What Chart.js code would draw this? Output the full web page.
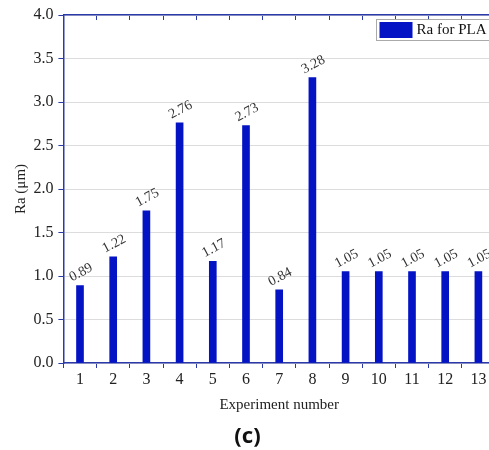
<!DOCTYPE html>
<html>
<head>
<meta charset="utf-8">
<script src="https://cdn.jsdelivr.net/npm/chart.js@4/dist/chart.umd.min.js"></script>
<style>
  html, body { margin: 0; padding: 0; background: #fff; overflow: hidden; }
</style>
</head>
<body>
<canvas id="myChart" width="495" height="450"></canvas>
<script>
const labels = ["1", "2", "3", "4", "5", "6", "7", "8", "9", "10", "11", "12", "13"];
const raValues = [0.89, 1.22, 1.75, 2.76, 1.17, 2.73, 0.84, 3.28, 1.05, 1.05, 1.05, 1.05, 1.05];
const yTicks = [0, 0.5, 1, 1.5, 2, 2.5, 3, 3.5, 4];

const serif = "'Liberation Serif', 'Times New Roman', serif";
const barBlue = "#0414c4";
const axisBlue = "#2b3aa8";

// value labels, tilted, above each bar
const barLabels = {
  id: "barLabels",
  afterDatasetsDraw(chart) {
    const ctx = chart.ctx;
    const meta = chart.getDatasetMeta(0);
    ctx.save();
    ctx.font = "14px " + serif;
    ctx.fillStyle = "#333";
    ctx.textAlign = "center";
    ctx.textBaseline = "middle";
    meta.data.forEach((bar, i) => {
      ctx.save();
      ctx.translate(bar.x + 1, bar.y - 13);
      ctx.rotate(-28 * Math.PI / 180);
      ctx.fillText(raValues[i].toFixed(2), 0, 0);
      ctx.restore();
    });
    ctx.restore();
  }
};

// boxed legend inside the plot, top right
const boxLegend = {
  id: "boxLegend",
  afterDraw(chart) {
    const ctx = chart.ctx;
    const area = chart.chartArea;
    const ds = chart.data.datasets[0];
    const left = area.right - 118.5;
    const top = area.top + 4.5;
    ctx.save();
    ctx.fillStyle = "#fff";
    ctx.fillRect(left, top, 117, 21);
    ctx.strokeStyle = "#aaa";
    ctx.lineWidth = 1;
    ctx.strokeRect(left, top, 117, 21);
    ctx.fillStyle = ds.backgroundColor;
    ctx.fillRect(left + 3, top + 2.5, 33, 16);
    ctx.fillStyle = "#111";
    ctx.font = "15px " + serif;
    ctx.textAlign = "left";
    ctx.textBaseline = "middle";
    ctx.fillText(ds.label, left + 40, top + 11);
    ctx.restore();
  }
};

const data = {
  labels,
  datasets: [
    {
      label: "Ra for PLA",
      data: raValues,
      backgroundColor: barBlue,
      borderWidth: 0,
      barThickness: 7,
    },
  ],
};

const config = {
  type: "bar",
  data: data,
  plugins: [barLabels, boxLegend],
  options: {
    responsive: false,
    animation: false,
    layout: { padding: { top: 15, left: 0, right: 0, bottom: 0 } },
    plugins: {
      legend: { display: false },
      tooltip: { enabled: false },
      title: {
        display: true,
        position: "bottom",
        text: "(c)",
        color: "#111",
        font: { family: "'Noto Sans', sans-serif", size: 22, weight: "bold", lineHeight: 1.2 },
        padding: { top: 0, bottom: 0 },
      },
    },
    scales: {
      x: {
        type: "category",
        position: "bottom",
        offset: true,
        grid: { offset: true, drawOnChartArea: false, tickLength: 5, tickColor: axisBlue },
        border: { color: axisBlue, width: 1.5 },
        ticks: { color: "#222", padding: 2, font: { family: serif, size: 16 } },
        title: {
          display: true,
          text: "Experiment number",
          color: "#222",
          font: { family: serif, size: 15, lineHeight: 1.2 },
          padding: { top: 0, bottom: 10 },
        },
        afterFit(scale) { scale.height = 60.6; },
      },
      x2: {
        type: "category",
        position: "top",
        offset: true,
        grid: { offset: true, drawOnChartArea: false, tickLength: -5, tickColor: axisBlue },
        border: { color: axisBlue, width: 1.5 },
        ticks: { display: false },
        afterFit(scale) { scale.height = 0; },
      },
      y: {
        type: "linear",
        min: 0,
        max: 4,
        afterBuildTicks(scale) { scale.ticks = yTicks.map(v => ({ value: v })); },
        grid: { color: "#dcdcdc", tickLength: 5, tickColor: axisBlue },
        border: { color: axisBlue, width: 1.5 },
        ticks: {
          color: "#222",
          padding: 5,
          font: { family: serif, size: 16 },
          callback: v => Number(v).toFixed(1),
        },
        title: {
          display: true,
          text: "Ra (μm)",
          color: "#222",
          font: { family: serif, size: 15, lineHeight: 1.2 },
          padding: { top: 12, bottom: 0 },
        },
        afterFit(scale) { scale.width = 63.4; },
      },
    },
  },
};

const myChart = new Chart(document.querySelector("#myChart"), config);
</script>
</body>
</html>
